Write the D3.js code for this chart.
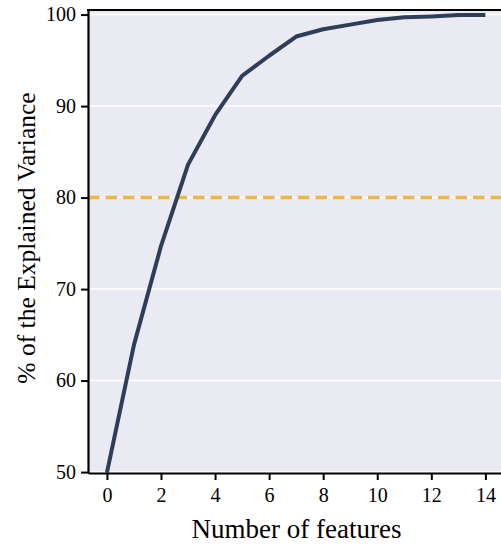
<!DOCTYPE html>
<html>
<head>
<meta charset="utf-8">
<script src="https://cdn.jsdelivr.net/npm/d3@7"></script>
<style>
  body { margin: 0; background: #fff; }
  svg { display: block; }
</style>
</head>
<body>
<svg id="chart"></svg>
<script>
// cumulative explained variance per number of features
var features = [0, 1, 2, 3, 4, 5, 6, 7, 8, 9, 10, 11, 12, 13, 14]
var variance = [49.95, 63.9, 74.7, 83.6, 89.0, 93.3, 95.5, 97.6, 98.4, 98.9, 99.4, 99.7, 99.8, 99.95, 99.95]
var threshold = 80
var xTicks = [0, 2, 4, 6, 8, 10, 12, 14]
var yTicks = [50, 60, 70, 80, 90, 100]

var width = 501
var height = 544
var margin = {top: 10, left: 88, bottom: 71}
var serif = "'Liberation Serif'"

var svg = d3.select("#chart")
    .attr("width", width)
    .attr("height", height)

var x = d3.scaleLinear()
    .domain([-0.7, 14.7])
    .range([margin.left, 504.3])

var y = d3.scaleLinear()
    .domain([49.9, 100.5])
    .range([height - margin.bottom, margin.top])

// background
svg.append("rect")
    .attr("x", x.range()[0])
    .attr("y", y.range()[1])
    .attr("width", x.range()[1] - x.range()[0])
    .attr("height", y.range()[0] - y.range()[1])
    .attr("fill", "#eaeaf2")

// horizontal grid
svg.append("g")
    .selectAll("line")
    .data(yTicks)
    .enter()
    .append("line")
    .attr("x1", x.range()[0])
    .attr("x2", x.range()[1])
    .attr("y1", d => y(d))
    .attr("y2", d => y(d))
    .attr("stroke", "#ffffff")
    .attr("stroke-width", 1.5)

// 80% threshold
svg.append("line")
    .attr("x1", x.range()[0])
    .attr("x2", x.range()[1])
    .attr("y1", y(threshold))
    .attr("y2", y(threshold))
    .attr("stroke", "#e8b849")
    .attr("stroke-width", 3.5)
    .attr("stroke-dasharray", "11.5,6")

var line = d3.line()
    .x((d, i) => x(features[i]))
    .y(d => y(d))

svg.append("path")
    .datum(variance)
    .attr("d", line)
    .attr("fill", "none")
    .attr("stroke", "#2e3d58")
    .attr("stroke-width", 4)
    .attr("stroke-linejoin", "round")

// axes
var xAxis = svg.append("g")
    .attr("transform", "translate(0," + y.range()[0] + ")")
    .call(d3.axisBottom(x).tickValues(xTicks).tickSize(7).tickPadding(8).tickSizeOuter(0))

var yAxis = svg.append("g")
    .attr("transform", "translate(" + x.range()[0] + ",0)")
    .call(d3.axisLeft(y).tickValues(yTicks).tickSize(7).tickPadding(5).tickSizeOuter(0))

svg.selectAll(".tick text")
    .style("font-family", serif)
    .style("font-size", "20px")
    .attr("fill", "#000")

svg.selectAll(".tick line")
    .attr("stroke", "#000")
    .attr("stroke-width", 2)

svg.selectAll(".domain")
    .attr("stroke", "#000")
    .attr("stroke-width", 2.2)

// top spine
svg.append("line")
    .attr("x1", x.range()[0] - 1)
    .attr("x2", width)
    .attr("y1", y.range()[1])
    .attr("y2", y.range()[1])
    .attr("stroke", "#000")
    .attr("stroke-width", 2.2)

// axis titles
svg.append("text")
    .attr("x", 296.5)
    .attr("y", 538)
    .attr("text-anchor", "middle")
    .style("font-family", serif)
    .style("font-size", "27px")
    .text("Number of features")

svg.append("text")
    .attr("transform", "translate(35,238) rotate(-90)")
    .attr("text-anchor", "middle")
    .style("font-family", serif)
    .style("font-size", "25.5px")
    .text("% of the Explained Variance")
</script>
</body>
</html>
